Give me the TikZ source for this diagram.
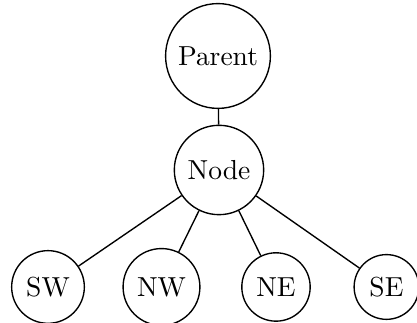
\documentclass[tikz,border=0pt]{standalone}
\begin{document}
\begin{tikzpicture}[x=0.3636pt,y=-0.3636pt,
  vertex/.style={draw,circle,line width=0.5pt,font=\normalsize}]
\useasboundingbox (0,0) rectangle (417,323);
\node[vertex] (parent) at (218,56) {Parent};
\node[vertex] (node) at (219,170) {Node};
\node[vertex] (sw) at (48,287) {SW};
\node[vertex] (nw) at (161.5,287) {NW};
\node[vertex] (ne) at (276,287) {NE};
\node[vertex] (se) at (386.5,287) {SE};
\draw[line width=0.5pt] (parent) -- (node);
\draw[line width=0.5pt] (node) -- (sw);
\draw[line width=0.5pt] (node) -- (nw);
\draw[line width=0.5pt] (node) -- (ne);
\draw[line width=0.5pt] (node) -- (se);
\end{tikzpicture}
\end{document}
